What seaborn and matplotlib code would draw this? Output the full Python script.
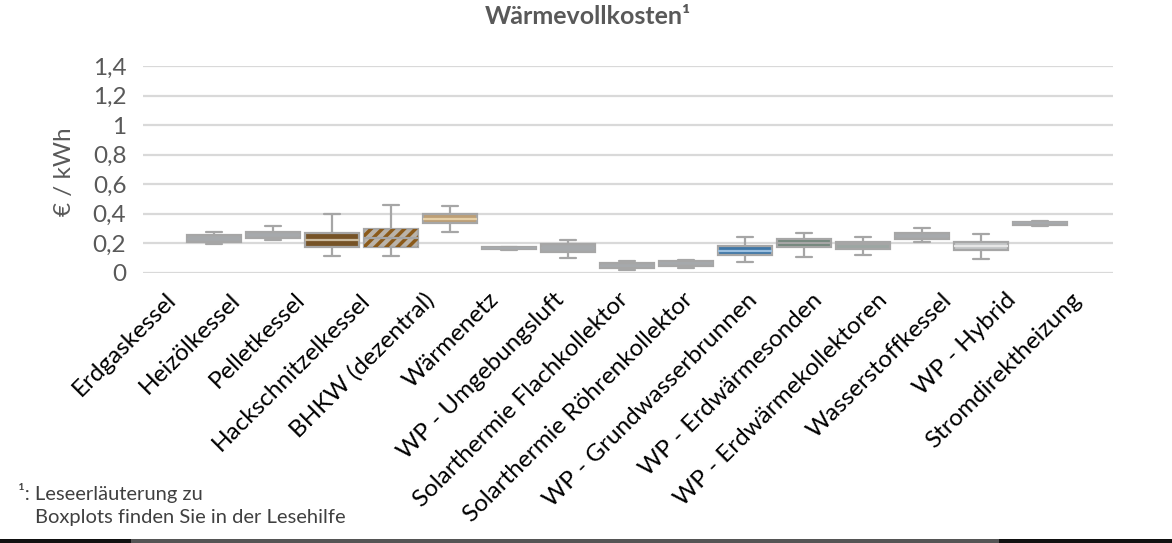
import numpy as np
import pandas as pd
import matplotlib
matplotlib.use("Agg")
import matplotlib.pyplot as plt
import seaborn as sns
from matplotlib.patches import Rectangle
from matplotlib.transforms import ScaledTranslation

# values (EUR / kWh)
categories = ['Erdgaskessel', 'Heizölkessel', 'Pelletkessel', 'Hackschnitzelkessel',
              'BHKW (dezentral)', 'Wärmenetz', 'WP - Umgebungsluft',
              'Solarthermie Flachkollektor', 'Solarthermie Röhrenkollektor',
              'WP - Grundwasserbrunnen', 'WP - Erdwärmesonden', 'WP - Erdwärmekollektoren',
              'Wasserstoffkessel', 'WP - Hybrid', 'Stromdirektheizung']
mins    = [0.193, 0.218, 0.111, 0.111, 0.277, 0.155, 0.101, 0.020, 0.030, 0.070, 0.108, 0.118, 0.209, 0.094, 0.314]
q1s     = [0.207, 0.232, 0.170, 0.175, 0.334, 0.158, 0.140, 0.032, 0.047, 0.118, 0.175, 0.159, 0.225, 0.154, 0.323]
medians = [0.230, 0.255, 0.223, 0.236, 0.366, 0.165, 0.165, 0.047, 0.062, 0.149, 0.200, 0.190, 0.250, 0.180, 0.333]
q3s     = [0.252, 0.277, 0.268, 0.296, 0.396, 0.172, 0.190, 0.063, 0.077, 0.181, 0.225, 0.207, 0.270, 0.209, 0.344]
maxs    = [0.277, 0.312, 0.396, 0.458, 0.449, 0.175, 0.222, 0.075, 0.087, 0.241, 0.270, 0.241, 0.303, 0.261, 0.350]

gray = '#A6A9AC'
box_colors = [gray, gray, '#83541A', '#BDB4A6', '#C9A16A', gray, gray, gray, gray,
              '#2F78B8', '#6F8A7C', '#9AA8A4', gray, '#C3C6C8', gray]
median_colors = [gray, gray, '#CBBB9E', '#A6A6A6', '#E6D0A8', gray, gray, gray, gray,
                 '#9CC0E0', '#A6A6A6', '#A6A6A6', gray, '#E6E6E6', gray]
hatched = ['Hackschnitzelkessel']
hatch_color = '#8B5A1A'

yticks = [0, 0.2, 0.4, 0.6, 0.8, 1.0, 1.2, 1.4]
ytick_labels = ['0', '0,2', '0,4', '0,6', '0,8', '1', '1,2', '1,4']

# five points per category -> exact quartiles, whiskers at min/max
df = pd.DataFrame({
    'Technologie': np.repeat(categories, 5),
    'Wert': np.column_stack([mins, q1s, medians, q3s, maxs]).ravel(),
})

sns.set_style('white')
plt.rcParams['font.family'] = ['Lato', 'DejaVu Sans']
plt.rcParams['hatch.linewidth'] = 2.5

fig = plt.figure(figsize=(11.72, 5.43), dpi=100)
ax = fig.add_axes([143 / 1172, 1 - 272.5 / 543, 970 / 1172, 206.5 / 543])

sns.boxplot(data=df, x='Technologie', y='Wert', hue='Technologie', palette=box_colors,
            legend=False, width=0.93, whis=(0, 100), showfliers=False, linewidth=1.6,
            linecolor='#A6A6A6', capwidths=0.27, ax=ax)

# median lines in their own colour
for line in ax.lines:
    x, y = line.get_xdata(), line.get_ydata()
    if len(y) == 2 and y[0] == y[1]:
        i = int(round(np.mean(x)))
        if np.isclose(y[0], medians[i]):
            line.set_color(median_colors[i])
            line.set_zorder(5)

# hatch for wood chips
for i, patch in enumerate(ax.patches[:len(categories)]):
    if categories[i] in hatched:
        bb = patch.get_path().get_extents()
        ax.add_patch(Rectangle((bb.x0, bb.y0), bb.width, bb.height, facecolor='none',
                               edgecolor=hatch_color, hatch='///', linewidth=0, zorder=4))

ax.set_ylim(0, 1.4)
ax.set_xlim(-1.203, 15.237)
ax.set_yticks(yticks)
ax.set_yticklabels(ytick_labels, fontsize=17.5, color='#595959')
ax.yaxis.grid(True, color='#D9D9D9', linewidth=1.6)
ax.set_axisbelow(True)
for s in ax.spines.values():
    s.set_visible(False)
ax.tick_params(axis='both', length=0)
ax.tick_params(axis='y', pad=12)
ax.tick_params(axis='x', labelbottom=False)

ax.set_xlabel('')
ax.set_ylabel('€ / kWh', fontsize=17.5, color='#595959')
ax.yaxis.set_label_coords(-0.07, 0.49)

# category labels sit on the full-width category axis
lab_ax = ax.twiny()
lab_ax.set_xlim(-0.5, len(categories) - 0.5)
lab_ax.xaxis.set_ticks_position('bottom')
lab_ax.set_xticks(range(len(categories)))
lab_ax.set_xticklabels(categories, rotation=45, ha='right', va='center',
                       rotation_mode='anchor', fontsize=17.5, color='#000000')
lab_ax.tick_params(axis='x', length=0, pad=0)
for s in lab_ax.spines.values():
    s.set_visible(False)
offset = ScaledTranslation(-0.03, -0.24, fig.dpi_scale_trans)
for lab in lab_ax.get_xticklabels():
    lab.set_transform(lab.get_transform() + offset)

fig.text(588 / 1172, 1 - 17 / 543, 'Wärmevollkosten¹', ha='center', va='center',
         fontsize=18, fontweight='bold', color='#595959')
fig.text(18 / 1172, 1 - 493 / 543, '¹: Leseerläuterung zu', va='center',
         fontsize=14.5, color='#404040')
fig.text(35 / 1172, 1 - 517 / 543, 'Boxplots finden Sie in der Lesehilfe', va='center',
         fontsize=14.5, color='#404040')

# bottom rule
fig.add_artist(Rectangle((0, 0), 1, 4 / 543, transform=fig.transFigure, color='#111111', lw=0))
fig.add_artist(Rectangle((131 / 1172, 0), 868 / 1172, 4 / 543, transform=fig.transFigure,
                         color='#555555', lw=0))

fig.savefig('out.png', dpi=100)
